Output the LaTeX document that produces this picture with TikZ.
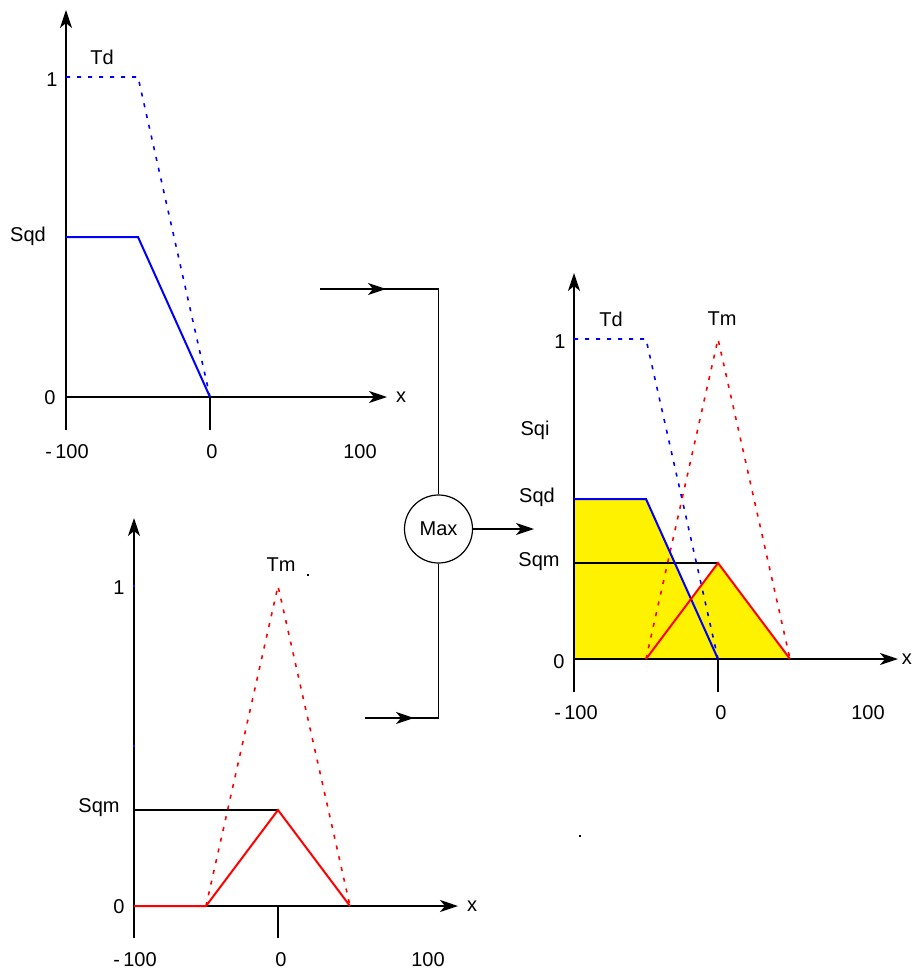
\documentclass[tikz,border=0pt]{standalone}
\usepackage{fontspec}
\setmainfont{Liberation Sans}
\usetikzlibrary{arrows.meta}
\begin{document}
\begin{tikzpicture}[x=1pt,y=-1pt,
  tip/.style={-{Stealth[length=18pt,width=12pt,inset=5pt]}},
  axis/.style={line width=1.4pt,black},
  axarrow/.style={axis,tip},
  lbl/.style={font=\fontsize{20}{22}\selectfont,inner sep=0pt},
  bsolid/.style={line width=2pt,blue},
  bdot/.style={line width=1.6pt,blue,dash pattern=on 4pt off 7pt},
  rsolid/.style={line width=2pt,red},
  rdot/.style={line width=1.6pt,red,dash pattern=on 4pt off 7pt},
  wire/.style={line width=1.4pt,black},
  wirearrow/.style={wire,tip}
]
\useasboundingbox (0,0) rectangle (913,971);

% ================= Top-left plot (Td) =================
\coordinate (A0) at (66,397);
\coordinate (Ayt) at (66,10);
\coordinate (Ayb) at (66,430);
\coordinate (Axt) at (387,397);
\coordinate (Atk) at (210,397);
\coordinate (Atkb) at (210,430);
\draw[axarrow] (Ayb) -- (Ayt);
\draw[axarrow] (A0) -- (Axt);
\draw[axis] (Atk) -- (Atkb);
\draw[bdot] (66,77) -- (138,77) -- (210,397);
\draw[bsolid] (66,237) -- (138,237) -- (210,397);
\node[lbl] (aTd) at (102,57) {Td};
\node[lbl] (a1) at (52,80) {1};
\node[lbl] (aSqd) at (28,236) {Sqd};
\node[lbl] (a0) at (50,398) {0};
\node[lbl] (ax) at (401,397) {x};
\node[lbl] (am100) at (67,452) {-\,100};
\node[lbl] (a0b) at (212,452) {0};
\node[lbl] (a100) at (360,452) {100};

% ================= Bottom-left plot (Tm) =================
\coordinate (B0) at (134,906);
\coordinate (Byt) at (134,518);
\coordinate (Byb) at (134,938);
\coordinate (Bxt) at (458,906);
\coordinate (Btk) at (278,906);
\coordinate (Btkb) at (278,938);
\draw[axarrow] (Byb) -- (Byt);
\draw[axarrow] (B0) -- (Bxt);
\draw[axis] (Btk) -- (Btkb);
\draw[axis,line width=1.2pt] (134,810) -- (278,810);
\draw[rdot] (206,906) -- (278,586) -- (350,906);
\draw[rsolid] (134,906) -- (206,906) -- (278,810) -- (350,906);
\fill[blue] (133,585) rectangle (135,587);
\fill[blue] (133,745) rectangle (135,747);
\fill[black] (307,574) rectangle (309,576);
\node[lbl] (bTm) at (281,565) {Tm};
\node[lbl] (b1) at (119,588) {1};
\node[lbl] (bSqm) at (99,808) {Sqm};
\node[lbl] (b0) at (119,907) {0};
\node[lbl] (bx) at (472,906) {x};
\node[lbl] (bm100) at (135,960) {-\,100};
\node[lbl] (b0b) at (281,960) {0};
\node[lbl] (b100) at (428,960) {100};

% ================= Right plot (result) =================
\fill[yellow] (574,659) -- (574,499) -- (646,499) -- (691,599) -- (718,563) -- (790,659) -- cycle;
\coordinate (C0) at (574,659);
\coordinate (Cyt) at (574,273);
\coordinate (Cyb) at (574,692);
\coordinate (Cxt) at (898,659);
\coordinate (Ctk) at (718,659);
\coordinate (Ctkb) at (718,692);
\draw[axarrow] (Cyb) -- (Cyt);
\draw[axarrow] (C0) -- (Cxt);
\draw[axis] (Ctk) -- (Ctkb);
\draw[axis,line width=1.2pt] (574,563) -- (718,563);
\draw[bdot] (574,339) -- (646,339) -- (718,659);
\draw[rdot] (646,659) -- (718,339) -- (790,659);
\draw[bsolid] (574,499) -- (646,499) -- (718,659);
\draw[rsolid] (646,659) -- (718,563) -- (790,659);
\node[lbl] (cTd) at (611,319) {Td};
\node[lbl] (cTm) at (722,319) {Tm};
\node[lbl] (c1) at (560,342) {1};
\node[lbl] (cSqi) at (535,430) {Sqi};
\node[lbl] (cSqd) at (537,497) {Sqd};
\node[lbl] (cSqm) at (539,562) {Sqm};
\node[lbl] (c0) at (559,662) {0};
\node[lbl,anchor=east] (cx) at (912,659) {x};
\node[lbl] (cm100) at (576,713) {-\,100};
\node[lbl] (c0b) at (721,713) {0};
\node[lbl] (c100) at (868,713) {100};
\fill[black] (579,835) rectangle (581,837);

% ================= Max block and wires =================
\node[draw,circle,line width=1.2pt,minimum size=68pt,inner sep=0pt,font=\fontsize{20}{22}\selectfont] (max) at (438.5,529) {Max};
\coordinate (inA) at (320,289);
\coordinate (midA) at (386,289);
\coordinate (cornA) at (438.5,289);
\coordinate (inB) at (365,718);
\coordinate (midB) at (414,718);
\coordinate (cornB) at (438.5,718);
\coordinate (outC) at (534,529);
\draw[wire] (inA) -- (cornA) -- (max.north);
\draw[wirearrow] (inA) -- (midA);
\draw[wire] (inB) -- (cornB) -- (max.south);
\draw[wirearrow] (inB) -- (midB);
\draw[wirearrow] (max.east) -- (outC);
\end{tikzpicture}
\end{document}
